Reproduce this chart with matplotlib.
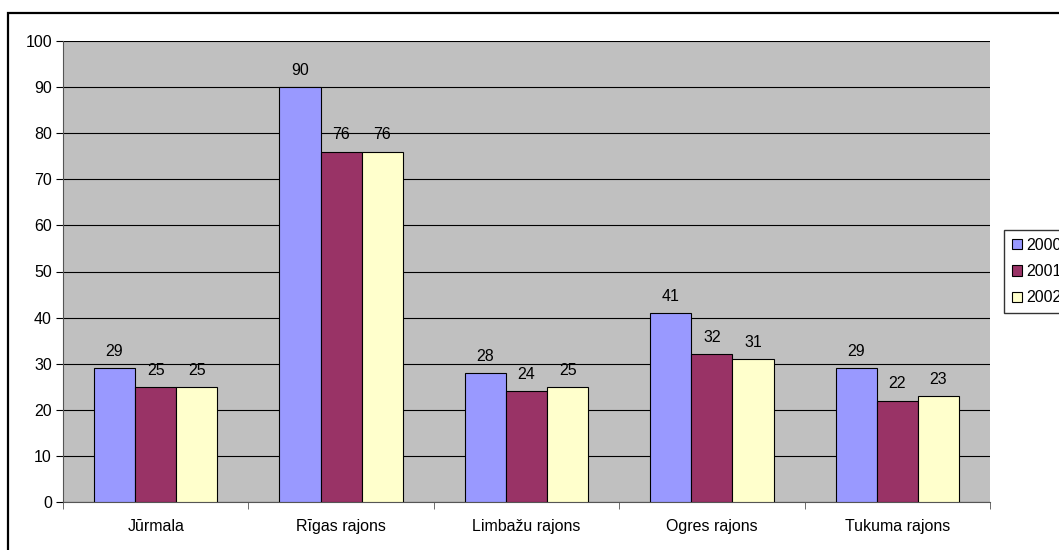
import numpy as np
import matplotlib.pyplot as plt
from matplotlib.patches import Rectangle

plt.rcParams['font.family'] = ['Liberation Sans', 'DejaVu Sans']

categories = ['Jūrmala', 'Rīgas rajons', 'Limbažu rajons', 'Ogres rajons', 'Tukuma rajons']
years = ['2000', '2001', '2002']
v2000 = [29, 90, 28, 41, 29]
v2001 = [25, 76, 24, 32, 22]
v2002 = [25, 76, 25, 31, 23]
colours = ['#9999FF', '#993366', '#FFFFCC']

W, H = 1059, 550
fs = 11.5
fig = plt.figure(figsize=(W / 100, H / 100), dpi=100)

# outer chart border (cut off at the right and bottom in the original)
fig.patches.append(Rectangle((8 / W, -0.1), 1.2, 1 - 13 / H + 0.1, transform=fig.transFigure,
                             fill=False, edgecolor='black', linewidth=1.6))

ax = fig.add_axes([63 / W, 1 - 502 / H, (990 - 63) / W, (502 - 41) / H])
ax.set_facecolor('#C0C0C0')

x = np.arange(len(categories))
bw = 0.222
for k, (vals, col, lab) in enumerate(zip([v2000, v2001, v2002], colours, years)):
    pos = x + (k - 1) * bw
    ax.bar(pos, vals, width=bw, color=col, edgecolor='black', linewidth=0.8, label=lab, zorder=3)
    for p, v in zip(pos, vals):
        ax.text(p, v + 2.0, str(v), ha='center', va='bottom', fontsize=fs)

ax.set_xlim(-0.5, len(categories) - 0.5)
ax.set_ylim(0, 100)
ax.set_yticks(np.arange(0, 101, 10))
ax.yaxis.grid(True, color='black', linewidth=0.8, zorder=0)
ax.set_axisbelow(True)
ax.set_xticks(x)
ax.set_xticklabels(categories)
ax.set_xticks(np.arange(-0.5, len(categories), 1), minor=True)
ax.tick_params(axis='x', which='major', length=0, pad=12, labelsize=fs)
ax.tick_params(axis='x', which='minor', length=5, direction='out', color='#555555')
ax.tick_params(axis='y', length=5, direction='out', labelsize=fs, pad=3)
for s in ['top', 'right']:
    ax.spines[s].set_visible(False)
ax.spines['left'].set_color('#555555')
ax.spines['bottom'].set_color('#555555')

leg = fig.legend(loc='upper left', bbox_to_anchor=(1004 / W, 1 - 230 / H), fontsize=fs,
                 frameon=True, fancybox=False, edgecolor='black', handlelength=0.6,
                 handleheight=0.6, handletextpad=0.3, borderpad=0.5, labelspacing=0.7,
                 borderaxespad=0)
leg.get_frame().set_linewidth(1.0)

fig.savefig('out.png', dpi=100)
